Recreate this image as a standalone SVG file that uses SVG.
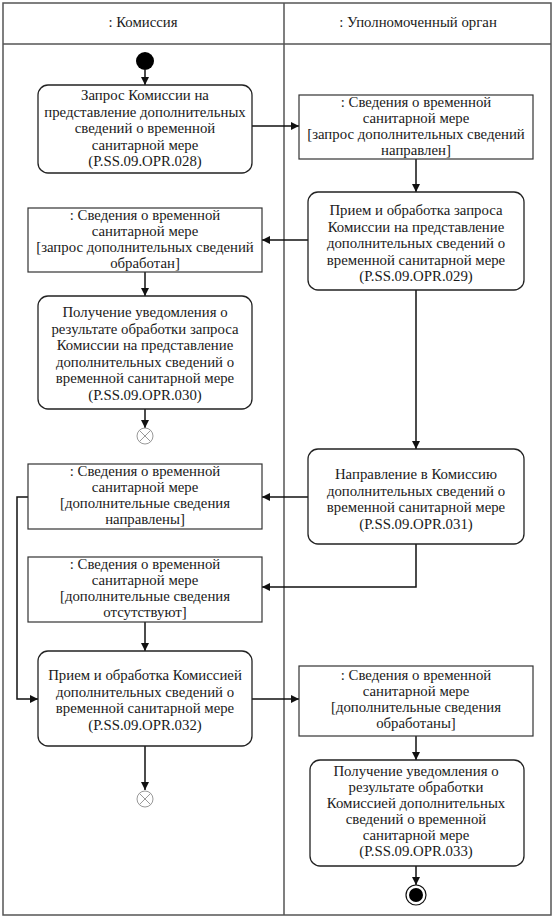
<svg xmlns="http://www.w3.org/2000/svg" width="555" height="919" viewBox="0 0 555 919" font-family="'Liberation Serif', 'Times New Roman', serif">
<style>
text{font-family:"Liberation Serif","Times New Roman",serif;font-size:14.8px;fill:#1a1a1a;text-anchor:middle}
.act{fill:#fff;stroke:#222;stroke-width:1.3}
.obj{fill:#fff;stroke:#333;stroke-width:1.2}
.c{fill:none;stroke:#111;stroke-width:1.5}
.frame{fill:none;stroke:#555;stroke-width:1.5}
.ff{fill:#fff;stroke:#999;stroke-width:1}
</style>
<defs>
<marker id="ah" viewBox="0 0 10 10" refX="10" refY="5" markerWidth="8" markerHeight="8" markerUnits="userSpaceOnUse" orient="auto">
<path d="M0,0 L10,5 L0,10 z" fill="#111"/>
</marker>
</defs>
<rect width="555" height="919" fill="#fff"/>
<g id="swimlanes">
<rect class="frame" x="3" y="3" width="548" height="912"/>
<line class="frame" x1="3" y1="44" x2="551" y2="44"/>
<line class="frame" x1="284" y1="3" x2="284" y2="915"/>
<text x="143" y="27">: Комиссия</text>
<text x="418" y="27">: Уполномоченный орган</text>
</g>
<g id="connectors">
<line class="c" x1="145" y1="70" x2="145" y2="85" marker-end="url(#ah)"/>
<line class="c" x1="252" y1="126" x2="299" y2="126" marker-end="url(#ah)"/>
<line class="c" x1="416" y1="159" x2="416" y2="192" marker-end="url(#ah)"/>
<line class="c" x1="308" y1="240" x2="262" y2="240" marker-end="url(#ah)"/>
<line class="c" x1="145" y1="272" x2="145" y2="296" marker-end="url(#ah)"/>
<line class="c" x1="145" y1="409" x2="145" y2="428" marker-end="url(#ah)"/>
<line class="c" x1="416" y1="290" x2="416" y2="449" marker-end="url(#ah)"/>
<line class="c" x1="308" y1="497" x2="262" y2="497" marker-end="url(#ah)"/>
<polyline class="c" points="416,544 416,587 262,587" marker-end="url(#ah)"/>
<line class="c" x1="145" y1="622" x2="145" y2="651" marker-end="url(#ah)"/>
<polyline class="c" points="28,497 17,497 17,699 38,699" marker-end="url(#ah)"/>
<line class="c" x1="145" y1="746" x2="145" y2="790" marker-end="url(#ah)"/>
<line class="c" x1="252" y1="699" x2="299" y2="699" marker-end="url(#ah)"/>
<line class="c" x1="416" y1="736" x2="416" y2="760" marker-end="url(#ah)"/>
<line class="c" x1="416" y1="866" x2="416" y2="885" marker-end="url(#ah)"/>
</g>
<g id="start"><circle cx="145" cy="61" r="9" fill="#000"/></g>
<g id="a028">
<rect class="act" x="38" y="85" width="214" height="88" rx="10"/>
<text x="145" y="100"><tspan x="145">Запрос Комиссии на</tspan><tspan x="145" dy="16.5">представление дополнительных</tspan><tspan x="145" dy="16.5">сведений о временной</tspan><tspan x="145" dy="16.5">санитарной мере</tspan><tspan x="145" dy="16.5">(P.SS.09.OPR.028)</tspan></text>
</g>
<g id="obj1">
<rect class="obj" x="299" y="95" width="234" height="64"/>
<text x="416" y="107"><tspan x="416">: Сведения о временной</tspan><tspan x="416" dy="16">санитарной мере</tspan><tspan x="416" dy="16">[запрос дополнительных сведений</tspan><tspan x="416" dy="16">направлен]</tspan></text>
</g>
<g id="a029">
<rect class="act" x="308" y="192" width="216" height="98" rx="10"/>
<text x="416" y="215"><tspan x="416">Прием и обработка запроса</tspan><tspan x="416" dy="16.5">Комиссии на представление</tspan><tspan x="416" dy="16.5">дополнительных сведений о</tspan><tspan x="416" dy="16.5">временной санитарной мере</tspan><tspan x="416" dy="16.5">(P.SS.09.OPR.029)</tspan></text>
</g>
<g id="obj2">
<rect class="obj" x="28" y="208" width="234" height="64"/>
<text x="145" y="220"><tspan x="145">: Сведения о временной</tspan><tspan x="145" dy="16">санитарной мере</tspan><tspan x="145" dy="16">[запрос дополнительных сведений</tspan><tspan x="145" dy="16">обработан]</tspan></text>
</g>
<g id="a030">
<rect class="act" x="38" y="296" width="214" height="113" rx="10"/>
<text x="145" y="317"><tspan x="145">Получение уведомления о</tspan><tspan x="145" dy="16.5">результате обработки запроса</tspan><tspan x="145" dy="16.5">Комиссии на представление</tspan><tspan x="145" dy="16.5">дополнительных сведений о</tspan><tspan x="145" dy="16.5">временной санитарной мере</tspan><tspan x="145" dy="16.5">(P.SS.09.OPR.030)</tspan></text>
</g>
<g id="flowfinal1">
<circle class="ff" cx="145" cy="436" r="8"/>
<path d="M139.3,430.3 L150.7,441.7 M150.7,430.3 L139.3,441.7" stroke="#999" stroke-width="1"/>
</g>
<g id="a031">
<rect class="act" x="308" y="449" width="216" height="95" rx="10"/>
<text x="416" y="479"><tspan x="416">Направление в Комиссию</tspan><tspan x="416" dy="16.5">дополнительных сведений о</tspan><tspan x="416" dy="16.5">временной санитарной мере</tspan><tspan x="416" dy="16.5">(P.SS.09.OPR.031)</tspan></text>
</g>
<g id="obj3">
<rect class="obj" x="28" y="464" width="234" height="65"/>
<text x="145" y="476"><tspan x="145">: Сведения о временной</tspan><tspan x="145" dy="16">санитарной мере</tspan><tspan x="145" dy="16">[дополнительные сведения</tspan><tspan x="145" dy="16">направлены]</tspan></text>
</g>
<g id="obj4">
<rect class="obj" x="28" y="557" width="234" height="65"/>
<text x="145" y="569"><tspan x="145">: Сведения о временной</tspan><tspan x="145" dy="16">санитарной мере</tspan><tspan x="145" dy="16">[дополнительные сведения</tspan><tspan x="145" dy="16">отсутствуют]</tspan></text>
</g>
<g id="a032">
<rect class="act" x="38" y="651" width="214" height="95" rx="10"/>
<text x="145" y="680"><tspan x="145">Прием и обработка Комиссией</tspan><tspan x="145" dy="16.5">дополнительных сведений о</tspan><tspan x="145" dy="16.5">временной санитарной мере</tspan><tspan x="145" dy="16.5">(P.SS.09.OPR.032)</tspan></text>
</g>
<g id="flowfinal2">
<circle class="ff" cx="145" cy="799" r="8"/>
<path d="M139.3,793.3 L150.7,804.7 M150.7,793.3 L139.3,804.7" stroke="#999" stroke-width="1"/>
</g>
<g id="obj5">
<rect class="obj" x="299" y="666" width="234" height="70"/>
<text x="416" y="680"><tspan x="416">: Сведения о временной</tspan><tspan x="416" dy="16">санитарной мере</tspan><tspan x="416" dy="16">[дополнительные сведения</tspan><tspan x="416" dy="16">обработаны]</tspan></text>
</g>
<g id="a033">
<rect class="act" x="310" y="760" width="214" height="106" rx="10"/>
<text x="416" y="776"><tspan x="416">Получение уведомления о</tspan><tspan x="416" dy="16">результате обработки</tspan><tspan x="416" dy="16">Комиссией дополнительных</tspan><tspan x="416" dy="16">сведений о временной</tspan><tspan x="416" dy="16">санитарной мере</tspan><tspan x="416" dy="16">(P.SS.09.OPR.033)</tspan></text>
</g>
<g id="end">
<circle cx="416" cy="895" r="10" fill="#fff" stroke="#111" stroke-width="1.2"/>
<circle cx="416" cy="895" r="7" fill="#000"/>
</g>
</svg>
